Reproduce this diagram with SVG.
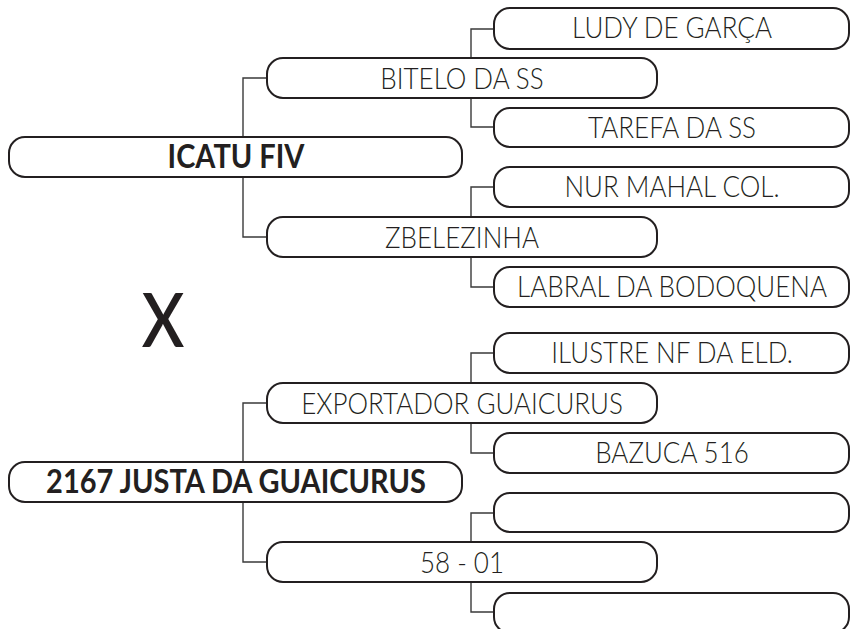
<svg xmlns="http://www.w3.org/2000/svg" width="851" height="629" viewBox="0 0 851 629">
<style>
.box{fill:#fff;stroke:#231f20;stroke-width:2}
.lnk{fill:none;stroke:#3a3a3a;stroke-width:1.4}
.t{font-family:Lato,"Open Sans","Liberation Sans",sans-serif;font-weight:300;font-size:26px;fill:#231f20;text-anchor:middle}
.tb{font-family:Lato,"Open Sans","Liberation Sans",sans-serif;font-weight:700;font-size:29px;fill:#231f20;text-anchor:middle}
</style>
<rect width="851" height="629" fill="#fff"/>
<g id="connectors">
<path class="lnk" d="M243 137V78H267M243 177V237H267"/>
<path class="lnk" d="M243 462V403H267M243 502V562H267"/>
<path class="lnk" d="M471 58V29H494M471 98V127H494"/>
<path class="lnk" d="M471 217V187H494M471 257V287H494"/>
<path class="lnk" d="M471 383V353H494M471 423V453H494"/>
<path class="lnk" d="M471 542V513H494M471 582V612H494"/>
</g>
<g id="n-icatu"><rect class="box" x="9" y="137" width="453" height="40" rx="16"/><text class="tb" transform="translate(236 168) scale(1 1.1)">ICATU FIV</text></g>
<g id="n-justa"><rect class="box" x="9" y="462" width="453" height="40" rx="16"/><text class="tb" transform="translate(236 493) scale(1 1.1)">2167 JUSTA DA GUAICURUS</text></g>
<g id="n-bitelo"><rect class="box" x="267" y="58" width="390" height="40" rx="16"/><text class="t" transform="translate(462 89) scale(1 1.12)">BITELO DA SS</text></g>
<g id="n-zbelezinha"><rect class="box" x="267" y="217" width="390" height="40" rx="16"/><text class="t" transform="translate(462 248) scale(1 1.12)">ZBELEZINHA</text></g>
<g id="n-exportador"><rect class="box" x="267" y="383" width="390" height="40" rx="16"/><text class="t" transform="translate(462 414) scale(1 1.12)">EXPORTADOR GUAICURUS</text></g>
<g id="n-5801"><rect class="box" x="267" y="542" width="390" height="40" rx="16"/><text class="t" transform="translate(462 573) scale(1 1.12)">58 - 01</text></g>
<g id="n-ludy"><rect class="box" x="494" y="8" width="355" height="41" rx="16"/><text class="t" transform="translate(672 38) scale(1 1.12)">LUDY DE GARÇA</text></g>
<g id="n-tarefa"><rect class="box" x="494" y="108" width="355" height="39" rx="16"/><text class="t" transform="translate(672 138) scale(1 1.12)">TAREFA DA SS</text></g>
<g id="n-nur"><rect class="box" x="494" y="167" width="355" height="40" rx="16"/><text class="t" transform="translate(672 197) scale(1 1.12)">NUR MAHAL COL.</text></g>
<g id="n-labral"><rect class="box" x="494" y="267" width="355" height="40" rx="16"/><text class="t" transform="translate(672 297) scale(1 1.12)">LABRAL DA BODOQUENA</text></g>
<g id="n-ilustre"><rect class="box" x="494" y="333" width="355" height="40" rx="16"/><text class="t" transform="translate(672 363) scale(1 1.12)">ILUSTRE NF DA ELD.</text></g>
<g id="n-bazuca"><rect class="box" x="494" y="433" width="355" height="40" rx="16"/><text class="t" transform="translate(672 463) scale(1 1.12)">BAZUCA 516</text></g>
<g id="n-empty1"><rect class="box" x="494" y="493" width="355" height="39" rx="16"/></g>
<g id="n-empty2"><rect class="box" x="494" y="593" width="355" height="40" rx="16"/></g>
<text transform="translate(163 347) scale(0.86 1)" font-family="Lato,'Liberation Sans',sans-serif" font-weight="600" font-size="75" fill="#231f20" text-anchor="middle">X</text>
</svg>
